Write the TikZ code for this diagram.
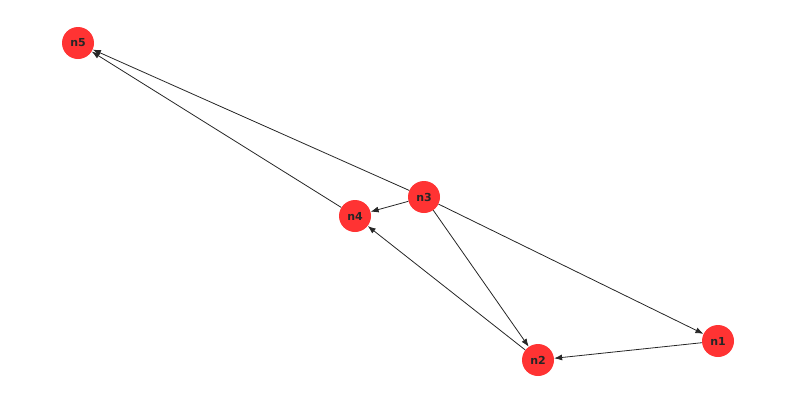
\documentclass[tikz,border=0pt]{standalone}
\usepackage{fontspec}
\setmainfont{DejaVu Sans}
\usetikzlibrary{arrows.meta}
\definecolor{nodered}{RGB}{255,51,51}
\tikzset{
  vertex/.style={circle,fill=nodered,minimum size=32pt,inner sep=0pt,font=\bfseries\fontsize{11}{11}\selectfont,text=black!85},
  edge/.style={-{Latex[length=8pt,width=6pt]},black!85,line width=0.8pt}
}
\begin{document}
\begin{tikzpicture}[x=1pt,y=-1pt]
  \useasboundingbox (0,0) rectangle (794,405);
  %knuder
  \node[vertex] (n5) at (78,43) {n5};
  \node[vertex] (n4) at (355,216) {n4};
  \node[vertex] (n3) at (424,197) {n3};
  \node[vertex] (n1) at (718,341) {n1};
  \node[vertex] (n2) at (538,360) {n2};
  %kanter
  \draw[edge] (n3) -- (n5);
  \draw[edge] (n4) -- (n5);
  \draw[edge] (n3) -- (n4);
  \draw[edge] (n3) -- (n2);
  \draw[edge] (n3) -- (n1);
  \draw[edge] (n1) -- (n2);
  \draw[edge] (n2) -- (n4);
\end{tikzpicture}
\end{document}
